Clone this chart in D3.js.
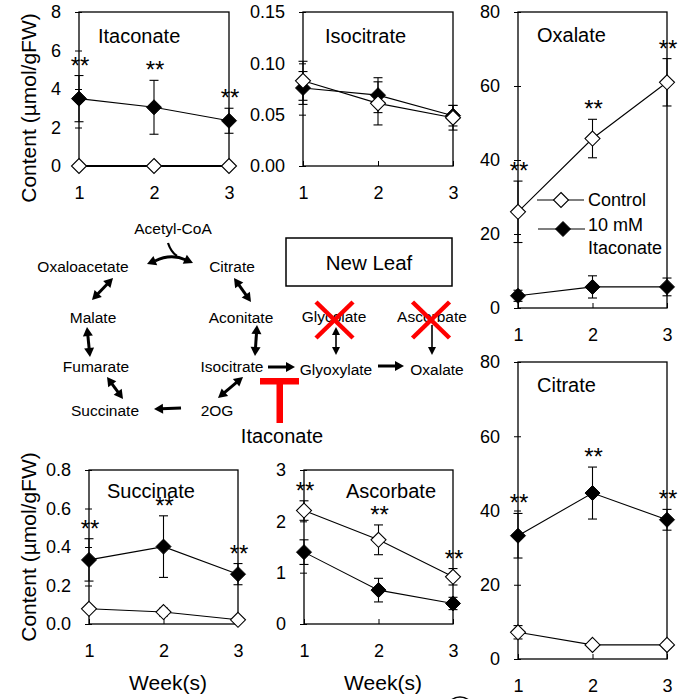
<!DOCTYPE html>
<html><head><meta charset="utf-8">
<script src="https://cdn.jsdelivr.net/npm/d3@7"></script>
<style>
body{margin:0;background:#fff}
svg{display:block}
text{font-family:"Liberation Sans",Arial,sans-serif;fill:#000}
</style>
</head><body>
<svg id="c" width="687" height="699"></svg>
<script>
// ---------------- DATA ----------------
const weeks = [1, 2, 3];
const seriesNames = ["Control", "10 mM", "Itaconate"];

const itaconateControl = [0, 0, 0];
const itaconateControlErr = [0, 0, 0];
const itaconateTreated = [3.5, 3.05, 2.35];
const itaconateTreatedErr = [1.2, 1.4, 0.65];
const itaconateTicks = [0, 2, 4, 6, 8];
const itaconateSig = [true, true, true];

const isocitrateControl = [0.083, 0.061, 0.047];
const isocitrateControlErr = [0.019, 0.021, 0.012];
const isocitrateTreated = [0.076, 0.069, 0.049];
const isocitrateTreatedErr = [0.016, 0.017, 0.010];
const isocitrateTicks = [0, 0.05, 0.10, 0.15];
const isocitrateSig = [false, false, false];

const oxalateControl = [26.0, 45.8, 61.0];
const oxalateControlErr = [8.3, 5.2, 6.4];
const oxalateTreated = [3.3, 5.7, 5.7];
const oxalateTreatedErr = [1.5, 3.0, 2.4];
const oxalateTicks = [0, 20, 40, 60, 80];
const oxalateSig = [true, true, true];

const citrateControl = [7.2, 3.8, 3.8];
const citrateControlErr = [1.8, 0.8, 0.8];
const citrateTreated = [33.2, 44.7, 37.5];
const citrateTreatedErr = [6.0, 7.0, 2.8];
const citrateTicks = [0, 20, 40, 60, 80];
const citrateSig = [true, true, true];

const succinateControl = [0.079, 0.062, 0.022];
const succinateControlErr = [0.01, 0.02, 0.01];
const succinateTreated = [0.333, 0.402, 0.259];
const succinateTreatedErr = [0.11, 0.16, 0.055];
const succinateTicks = [0, 0.2, 0.4, 0.6, 0.8];
const succinateSig = [true, true, true];

const ascorbateControl = [2.21, 1.64, 0.92];
const ascorbateControlErr = [0.19, 0.29, 0.16];
const ascorbateTreated = [1.40, 0.66, 0.40];
const ascorbateTreatedErr = [0.24, 0.23, 0.12];
const ascorbateTicks = [0, 1, 2, 3];
const ascorbateSig = [true, true, true];

// ---------------- LAYOUT ----------------
const panels = [
  {name:"Itaconate", c:itaconateControl, ce:itaconateControlErr, t:itaconateTreated, te:itaconateTreatedErr,
   ticks:itaconateTicks, fmt:"d", sig:itaconateSig, box:[79,12,229,166], title:[98,42.5]},
  {name:"Isocitrate", c:isocitrateControl, ce:isocitrateControlErr, t:isocitrateTreated, te:isocitrateTreatedErr,
   ticks:isocitrateTicks, fmt:".2f", sig:isocitrateSig, box:[303,12,453,166], title:[325,42.5]},
  {name:"Oxalate", c:oxalateControl, ce:oxalateControlErr, t:oxalateTreated, te:oxalateTreatedErr,
   ticks:oxalateTicks, fmt:"d", sig:oxalateSig, box:[518,12,667,308], title:[537,42]},
  {name:"Citrate", c:citrateControl, ce:citrateControlErr, t:citrateTreated, te:citrateTreatedErr,
   ticks:citrateTicks, fmt:"d", sig:citrateSig, box:[518,362,667,659], title:[537,392]},
  {name:"Succinate", c:succinateControl, ce:succinateControlErr, t:succinateTreated, te:succinateTreatedErr,
   ticks:succinateTicks, fmt:".1f", sig:succinateSig, box:[89,470,238,624], title:[107,498]},
  {name:"Ascorbate", c:ascorbateControl, ce:ascorbateControlErr, t:ascorbateTreated, te:ascorbateTreatedErr,
   ticks:ascorbateTicks, fmt:"d", sig:ascorbateSig, box:[304,470,453,624], title:[346,498]}
];

const svg = d3.select("#c");
svg.append("rect").attr("width",687).attr("height",699).attr("fill","#fff");

function diamond(r){ return `M0,${-r}L${r},0L0,${r}L${-r},0Z`; }

panels.forEach(p => {
  const [x0,y0,x1,y1] = p.box;
  const x = d3.scalePoint().domain(weeks).range([x0,x1]).padding(0);
  const y = d3.scaleLinear().domain([p.ticks[0], p.ticks[p.ticks.length-1]]).range([y1,y0]);
  const g = svg.append("g");

  // y axis
  const ya = g.append("g").attr("transform",`translate(${x0},0)`)
    .call(d3.axisLeft(y).tickValues(p.ticks).tickFormat(d3.format(p.fmt)).tickSizeInner(0).tickSizeOuter(0).tickPadding(18));
  ya.select(".domain").remove();
  ya.selectAll(".tick line").attr("x1",-4).attr("x2",3).attr("stroke","#000");
  ya.selectAll(".tick text").attr("font-size",18).attr("fill","#000").attr("font-family",null);

  // x axis
  const xa = g.append("g").attr("transform",`translate(0,${y1})`)
    .call(d3.axisBottom(x).tickSizeInner(0).tickSizeOuter(0).tickPadding(20));
  xa.select(".domain").remove();
  xa.selectAll(".tick line").attr("y1",0).attr("y2",-5).attr("stroke","#000");
  xa.selectAll(".tick text").attr("font-size",18).attr("fill","#000").attr("font-family",null);

  // frame
  g.append("rect").attr("x",x0).attr("y",y0).attr("width",x1-x0).attr("height",y1-y0)
    .attr("fill","none").attr("stroke","#000").attr("stroke-width",1.3);

  // title
  g.append("text").attr("x",p.title[0]).attr("y",p.title[1]).attr("font-size",20).text(p.name);

  const line = d3.line().x((d,i)=>x(weeks[i])).y(d=>y(d));
  [p.t, p.c].forEach(vals => {
    g.append("path").attr("d",line(vals)).attr("fill","none").attr("stroke","#000")
      .attr("stroke-width", vals.every(v=>v===0) ? 2 : 1.1);
  });

  // error bars
  [[p.t,p.te],[p.c,p.ce]].forEach(([vals,errs]) => {
    vals.forEach((v,i) => {
      const e = errs[i]; if (!e) return;
      const cx = x(weeks[i]);
      const top = y(v+e), bot = y(v-e);
      g.append("line").attr("x1",cx).attr("x2",cx).attr("y1",top).attr("y2",bot).attr("stroke","#000").attr("stroke-width",1.1);
      [top,bot].forEach(yy => g.append("line").attr("x1",cx-4.5).attr("x2",cx+4.5).attr("y1",yy).attr("y2",yy).attr("stroke","#000").attr("stroke-width",1.1));
    });
  });

  // markers
  p.t.forEach((v,i) => g.append("path").attr("d",diamond(7.5)).attr("transform",`translate(${x(weeks[i])},${y(v)})`)
    .attr("fill","#000").attr("stroke","#000").attr("stroke-width",1));
  p.c.forEach((v,i) => g.append("path").attr("d",diamond(7.5)).attr("transform",`translate(${x(weeks[i])},${y(v)})`)
    .attr("fill","#fff").attr("stroke","#000").attr("stroke-width",1.1));

  // significance
  p.sig.forEach((s,i) => {
    if (!s) return;
    const up = Math.min(y(p.t[i]+p.te[i]), y(p.c[i]+p.ce[i]));
    g.append("text").attr("x",x(weeks[i])+1).attr("y",up-2).attr("text-anchor","middle")
      .attr("font-size",24).text("**");
  });
});

// legend (in Oxalate panel)
const lg = svg.append("g");
lg.append("line").attr("x1",537).attr("x2",584).attr("y1",200).attr("y2",200).attr("stroke","#000").attr("stroke-width",1.1);
lg.append("path").attr("d",diamond(7.5)).attr("transform","translate(561,200)").attr("fill","#fff").attr("stroke","#000").attr("stroke-width",1.1);
lg.append("text").attr("x",588).attr("y",206).attr("font-size",18).text(seriesNames[0]);
lg.append("line").attr("x1",538).attr("x2",585).attr("y1",229).attr("y2",229).attr("stroke","#000").attr("stroke-width",1.1);
lg.append("path").attr("d",diamond(7.5)).attr("transform","translate(563,229)").attr("fill","#000").attr("stroke","#000");
lg.append("text").attr("x",588).attr("y",231).attr("font-size",18).text(seriesNames[1]);
lg.append("text").attr("x",588).attr("y",254).attr("font-size",18).text(seriesNames[2]);

// axis titles
[[36,108],[36,547]].forEach(([bx,cy]) => {
  svg.append("text").attr("transform",`translate(${bx},${cy}) rotate(-90)`).attr("text-anchor","middle")
    .attr("font-size",21).text("Content (µmol/gFW)");
});
[[168,690],[383,690]].forEach(([cx,by]) => {
  svg.append("text").attr("x",cx).attr("y",by).attr("text-anchor","middle").attr("font-size",21).text("Week(s)");
});

// ---------------- PATHWAY DIAGRAM ----------------
const pw = svg.append("g");
const labels = [
  ["Acetyl-CoA",173,234],["Oxaloacetate",83,272],["Citrate",232,272],
  ["Malate",93,323],["Aconitate",241,323],["Fumarate",96,372],["Isocitrate",232,372],
  ["Succinate",105,416],["2OG",217,416],["Glyoxylate",336,375],["Oxalate",437,375],
  ["Glycolate",334,322],["Ascorbate",432,322]
];
labels.forEach(([t,x,y]) => pw.append("text").attr("x",x).attr("y",y).attr("text-anchor","middle").attr("font-size",15.5).text(t));

// New Leaf box
pw.append("rect").attr("x",286).attr("y",238).attr("width",166).attr("height",48).attr("fill","none").attr("stroke","#000").attr("stroke-width",1.5);
pw.append("text").attr("x",369).attr("y",270).attr("text-anchor","middle").attr("font-size",20.5).text("New Leaf");

function head(g, tx, ty, fx, fy, len, wid){
  const a = Math.atan2(ty-fy, tx-fx);
  const bx = tx - len*Math.cos(a), by = ty - len*Math.sin(a);
  const nx = -Math.sin(a)*wid/2, ny = Math.cos(a)*wid/2;
  g.append("path").attr("d",`M${tx},${ty}L${bx+nx},${by+ny}L${bx-nx},${by-ny}Z`).attr("fill","#000");
  return [bx+ (tx-bx)*0.2, by + (ty-by)*0.2];
}
function arrow(x1,y1,x2,y2,both,sw,len,wid){
  let s=[x1,y1], e=[x2,y2];
  e = head(pw,x2,y2,x1,y1,len,wid);
  if (both) s = head(pw,x1,y1,x2,y2,len,wid);
  pw.append("line").attr("x1",s[0]).attr("y1",s[1]).attr("x2",e[0]).attr("y2",e[1]).attr("stroke","#000").attr("stroke-width",sw);
}
const thick = [3, 9, 10];
arrow(113,278,92,300,true,...thick);      // OAA <-> Malate
arrow(87,327,90,357,true,...thick);       // Malate <-> Fumarate
arrow(107,377,123,399,true,...thick);     // Fumarate <-> Succinate
arrow(181,408,154,409,false,...thick);    // 2OG -> Succinate
arrow(243,377,218,398,true,...thick);     // Isocitrate <-> 2OG
arrow(234,278,251,302,true,...thick);     // Citrate <-> Aconitate
arrow(257,325,255,356,true,...thick);     // Aconitate <-> Isocitrate
arrow(268,367,295,367,false,...thick);    // Isocitrate -> Glyoxylate
arrow(378,366,404,366,false,...thick);    // Glyoxylate -> Oxalate
arrow(336,327,336,355,true,1.6,8,8);      // Glycolate <-> Glyoxylate
arrow(432,325,432,355,false,1.6,8,8);     // Ascorbate -> Oxalate

// Acetyl-CoA junction arc
pw.append("path").attr("d","M155,261 Q171,253 186,260").attr("fill","none").attr("stroke","#000").attr("stroke-width",3);
head(pw,147,264,158,259.5,9,10);
head(pw,193,263,183,258.5,9,10);
pw.append("path").attr("d","M168,243 Q171,252 177,256").attr("fill","none").attr("stroke","#000").attr("stroke-width",2.2);

// Red crosses
[[334.5,320],[431,320]].forEach(([cx,cy]) => {
  pw.append("line").attr("x1",cx-18.5).attr("y1",cy-18).attr("x2",cx+18.5).attr("y2",cy+18).attr("stroke","#f00").attr("stroke-width",4.5);
  pw.append("line").attr("x1",cx+18.5).attr("y1",cy-18).attr("x2",cx-18.5).attr("y2",cy+18).attr("stroke","#f00").attr("stroke-width",4.5);
});
// Red inhibition T
pw.append("rect").attr("x",260).attr("y",378).attr("width",39).attr("height",6.5).attr("fill","#f00");
pw.append("rect").attr("x",276.5).attr("y",384).attr("width",6.5).attr("height",39).attr("fill","#f00");
pw.append("text").attr("x",282).attr("y",443).attr("text-anchor","middle").attr("font-size",20).text("Itaconate");

// partial circle at the bottom edge
svg.append("circle").attr("cx",460).attr("cy",711).attr("r",14).attr("fill","none").attr("stroke","#000").attr("stroke-width",1.5);
</script>
</body></html>
